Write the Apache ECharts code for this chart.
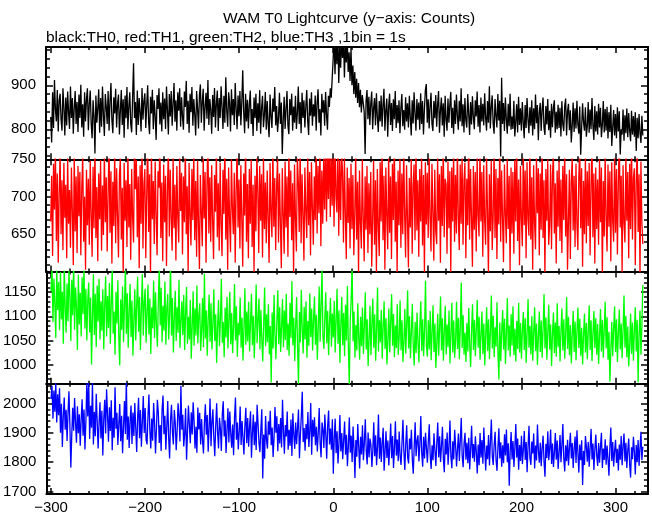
<!DOCTYPE html>
<html><head><meta charset="utf-8">
<script src="https://cdn.jsdelivr.net/npm/echarts@6/dist/echarts.min.js"></script>
<style>html,body{margin:0;padding:0;background:#fff}#c{width:652px;height:515px}</style>
</head><body><div id="c"></div>
<script>
const X_START = -300; // 1 s bins
const th0 = [
828,770,884,803,912,846,818,889,795,866,
881,822,797,893,850,786,872,809,886,838,
801,897,826,871,790,848,887,812,862,794,
879,826,901,804,857,783,884,818,869,893,
798,858,888,812,780,866,829,745,877,815,
848,891,792,871,806,897,833,785,880,852,
812,887,797,864,905,821,791,873,836,892,
804,858,879,788,842,889,810,868,781,877,
825,896,800,853,884,812,793,872,950,826,
862,787,888,810,871,838,795,894,822,864,
882,803,855,900,818,789,874,836,890,800,
866,829,776,878,846,893,811,861,795,884,
823,870,801,897,843,788,880,829,887,808,
858,905,817,866,797,884,842,893,806,873,
828,799,886,851,910,812,865,792,881,839,
896,808,869,834,786,887,847,802,877,902,
815,862,892,797,851,883,824,912,810,869,
845,790,878,828,894,804,859,888,796,871,
826,898,851,801,876,815,918,842,806,884,
860,795,891,832,869,810,905,846,800,877,
830,887,809,862,934,840,791,881,818,867,
802,855,888,812,846,785,872,826,881,796,
859,815,889,790,848,876,805,834,885,799,
864,813,782,879,829,803,870,840,896,809,
853,794,826,883,812,861,744,820,874,801,
846,887,808,789,869,832,881,797,852,815,
876,801,836,897,812,862,791,883,826,866,
804,852,889,819,787,870,831,884,808,857,
829,877,797,860,891,815,846,786,881,838,
866,808,885,833,799,876,851,893,872,915,
958,1010,925,1003,948,1015,905,990,940,1008,
962,1012,918,996,952,1005,930,975,910,985,
900,945,880,930,872,915,860,905,850,890,
838,878,860,840,744,865,889,823,874,810,
858,886,800,849,871,809,882,827,794,864,
818,877,806,855,892,797,843,870,783,852,
881,810,860,796,868,823,887,803,855,814,
866,791,848,880,807,844,799,873,818,859,
804,876,827,786,866,813,884,836,797,869,
822,861,799,882,812,864,788,846,889,903,
815,868,802,853,883,812,796,864,825,878,
806,857,887,792,843,872,809,859,783,876,
823,797,870,815,856,885,803,849,790,866,
812,879,831,799,865,818,893,807,857,793,
871,820,804,880,836,787,862,811,875,827,
800,866,829,886,806,855,793,872,818,858,
809,882,826,797,864,815,898,802,851,877,
813,790,869,831,804,880,820,865,738,917,
812,860,796,872,823,790,858,807,881,799,
829,801,865,784,817,857,793,874,810,848,
797,862,815,780,855,803,871,822,791,850,
808,866,786,848,800,879,814,855,775,838,
860,796,845,872,804,787,853,811,869,798,
842,781,858,805,849,866,792,840,800,856,
803,849,784,864,811,796,852,870,786,841,
858,798,843,770,809,861,794,848,802,865,
811,790,852,742,803,859,816,797,850,783,
806,862,792,845,800,871,809,776,853,795,
841,788,858,804,849,782,811,864,793,846,
797,851,779,839,794,856,762,803,844,786,
835,780,850,795,841,743,800,788,845,774,
832,791,847,782,837,797,773,842,788,830,
783,839,751,826,780,835,791,769,831,786];
const th1 = [
667,728,621,744,683,762,641,731,612,705,
758,650,722,629,745,672,716,618,752,664,
709,632,739,680,609,757,654,727,625,741,
674,733,622,711,755,640,700,603,736,662,
724,636,748,676,620,740,658,766,645,713,
614,731,670,749,628,715,649,760,666,726,
627,706,771,652,734,611,720,661,764,638,
738,675,619,729,751,643,712,598,745,668,
722,633,761,659,717,616,737,673,639,768,
710,749,646,727,605,742,664,769,631,716,
737,618,705,778,653,730,596,758,670,721,
637,747,675,622,734,712,773,645,719,614,
743,666,728,608,709,766,647,736,672,628,
752,658,716,615,741,673,639,757,681,732,
623,727,666,768,650,714,601,745,676,635,
737,669,761,642,721,620,748,663,604,729,
678,634,754,671,733,612,717,775,651,726,
640,742,668,617,729,680,760,646,718,628,
745,664,621,736,677,771,643,724,603,739,
671,626,750,684,650,732,612,710,765,659,
723,631,742,670,607,731,675,770,640,717,
618,737,664,750,633,716,600,728,654,758,
708,625,741,668,730,619,753,657,719,638,
735,672,612,745,680,646,766,660,725,629,
716,750,639,731,664,605,738,677,624,747,
659,727,620,762,673,735,642,718,597,743,
670,627,753,721,653,768,638,730,675,615,
739,680,645,757,662,733,622,746,684,636,
727,669,772,651,741,678,765,634,735,664,
751,683,779,667,761,697,785,673,753,688,
769,660,781,701,679,772,648,749,669,760,
734,639,752,676,617,739,665,725,631,744,
657,729,622,677,756,643,720,598,735,666,
631,750,673,614,727,656,741,625,718,650,
733,607,669,748,636,722,596,737,661,621,
746,667,766,642,728,603,739,674,630,759,
652,727,617,744,669,776,640,720,599,735,
662,751,632,731,650,764,675,619,742,668,
606,725,659,750,624,715,743,642,767,655,
722,620,737,667,752,635,729,598,746,663,
732,645,758,672,627,744,678,615,736,655,
637,752,668,730,612,741,661,773,646,724,
717,624,747,658,734,600,739,667,761,640,
729,651,765,673,629,743,664,754,636,721,
745,618,724,662,778,643,737,671,607,741,
656,733,627,752,675,647,764,667,733,620,
742,668,636,756,680,598,730,654,748,629,
672,761,645,737,617,725,663,773,640,735,
670,613,743,676,638,751,657,728,601,739,
651,733,624,749,667,766,641,723,609,741,
672,634,760,662,735,618,746,671,648,769,
643,726,603,742,665,630,754,678,738,622,
731,656,768,645,722,596,737,668,750,636,
662,743,630,729,757,651,718,611,735,660,
748,641,723,625,741,669,763,647,730,603,
667,736,617,720,752,655,728,633,744,664,
629,727,765,658,738,607,721,650,754,638,
734,661,745,622,716,772,646,731,611,739,
657,723,636,750,666,739,594,721,647,758,
671,627,743,660,734,614,746,667,640,761,
652,737,623,719,785,659,728,599,742,665,
639,755,668,733,618,744,657,777,643,725,
738,609,720,767,653,730,596,747,666,637];
const th2 = [
1152,1205,1088,1178,1126,1055,1199,1113,1171,1071,
1192,1094,1151,1043,1210,1120,1066,1168,1090,1197,
1141,1049,1176,1102,1215,1072,1160,1119,1030,1186,
1083,1149,1058,1181,1105,1201,1074,1157,1050,1133,
1170,1067,1139,1000,1098,1188,1061,1147,1036,1164,
1089,1178,1052,1131,1070,1156,1031,1124,1183,1058,
1142,1076,1169,1043,1127,1200,1064,1110,1020,1151,
1085,1175,1055,998,1135,1072,1162,1046,1120,1203,
1064,1148,1035,1111,1167,1057,1133,1018,1091,1156,
1050,1124,1182,1068,1140,1030,1116,1188,1060,1129,
1157,1045,1106,1166,1062,1137,1022,1118,1075,1174,
1055,1150,1083,1037,1130,1205,1081,1159,1046,1122,
1070,1172,1041,1115,1146,1052,1103,1212,1060,1138,
1025,1098,1153,1049,1119,1066,1176,1035,1090,1131,
1061,1144,1030,1108,1161,1043,1099,1052,1134,1012,
1078,1152,1039,1116,1060,1164,1044,1100,1127,1028,
1071,1138,1036,1189,1054,1112,1018,1094,1145,1047,
1127,1031,1084,1156,1049,1104,1003,1079,1134,1038,
1092,1178,1045,1088,1015,1118,1056,1140,1033,1091,
1151,1042,1107,1024,1080,1167,1050,1121,1016,1086,
1061,1139,1035,1097,1008,1075,1158,1041,1110,1048,
1130,1027,1086,1147,1040,1101,1013,1078,1166,1044,
1093,1137,1031,1113,1052,1006,1084,1160,1038,1104,
1046,1125,1021,1080,962,1108,1033,1144,1060,1011,
1089,1154,1042,1119,1026,1078,1136,1036,1112,1051,
1147,1030,1085,1018,1128,1055,1173,1040,1097,1007,
1081,1140,1034,960,1109,1046,1155,1072,1023,1120,
1052,1131,1014,1090,1039,1148,1057,1116,1029,1095,
1141,1041,1103,1010,1076,1162,1047,1123,1200,1058,
1032,1098,1150,1044,1111,1019,1087,1138,1037,1106,
1056,1132,1025,1093,1157,1043,1112,1003,1084,1140,
1040,1107,1017,1124,1050,1163,1035,959,1090,1135,
1208,1048,1110,1014,1082,1029,1127,1055,1010,1099,
1038,1118,1022,1078,1150,1031,1094,997,1049,1122,
1019,1083,1137,1035,1104,1008,1073,1160,1027,1092,
1046,1113,1012,1077,1131,1032,1096,1000,1050,1116,
1025,1090,1146,1039,1105,1015,1081,1034,1125,1020,
1054,1133,1029,1092,1005,1045,1115,1023,1083,1154,
1033,1100,1013,1068,1126,1037,998,1088,1024,1108,
1046,1004,1080,1131,1028,1094,1017,1072,1174,1038,
1016,1092,1031,1111,1009,1067,1123,1026,1085,993,
1043,1105,1018,1076,1141,1029,1096,1008,1070,1122,
1021,1083,1036,1112,1002,1064,1128,1025,1091,1014,
1051,1130,1032,1097,1011,1079,1170,1034,1102,1020,
1066,1005,1086,1027,1117,1039,995,1074,1125,1030,
1093,1017,1073,1134,1035,1099,1010,1064,1110,1022,
1085,998,1062,1119,1028,1094,1011,1069,1143,1033,
1101,1015,1077,1037,1129,1024,969,1087,1007,1070,
1113,1031,1095,1001,1065,1138,1029,1081,1016,1104,
1039,1121,1019,1074,1006,1090,1032,1128,1025,1086,
1012,1071,1109,1030,1096,1003,1063,1136,1035,1080,
1021,1100,1008,1067,1119,1028,1085,999,1060,1110,
1026,1091,1014,1075,1146,1033,1098,1010,1068,1124,
1031,1083,997,1064,1108,1024,1087,1016,1127,1036,
1080,1006,1071,1116,1029,1094,1012,1066,1140,1032,
1099,1019,1082,1002,1063,1111,1026,1089,1009,1070,
1118,1034,1095,1018,1076,1000,1062,1106,1025,1086,
1011,1069,1123,1030,1092,1007,1065,1111,1034,1096,
1020,1084,1001,1060,1115,1027,1093,1014,1073,1130,
1033,1098,1010,1068,964,1029,1088,1017,1075,1121,
1026,1094,1005,1066,1114,1031,1085,1013,1072,1143,
1035,1101,1015,1079,996,1038,1106,1022,1087,1008,
1069,1119,1027,1093,963,1062,1112,1020,1080,1165];
const th3 = [
2015,2060,1948,2044,1972,2070,1935,2031,1960,2052,
1900,1999,1851,1957,2020,1910,1978,1872,1966,2041,
1925,1781,1893,1985,1907,2018,1934,1866,1990,1898,
1963,1856,1945,2014,1890,1979,1843,1938,2070,1955,
2075,1879,1992,1917,2072,1860,1971,1888,2033,1940,
1846,1933,2004,1880,1975,1822,1946,2012,1897,2048,
1962,1869,1987,1906,2011,1840,1951,1883,2055,1914,
1968,1858,1929,1998,1871,1958,1830,1921,2008,1896,
2080,1876,1955,1848,1942,1993,1862,1969,1889,2001,
1915,1834,1950,2019,1881,1977,1852,1936,2025,1899,
1984,1876,1860,1955,2030,1908,1846,1948,1873,2001,
1937,1829,1912,2012,1968,1865,1926,1838,1979,2027,
1895,1958,1842,1921,2008,1883,1812,1945,1995,1902,
1860,1977,1934,1840,1905,2000,1956,1870,2060,1910,
1961,1853,1895,1983,1808,1903,1993,1926,1864,1970,
1894,2004,1941,1846,1920,1832,1986,1911,1968,1860,
1947,1873,1829,1935,1997,1893,1960,1835,1918,2017,
1854,1936,1980,1884,1820,1922,2000,1902,1846,1951,
1913,1838,1964,2007,1887,1942,1831,1910,1983,1867,
1972,1896,1849,1928,1823,1952,2020,1876,1935,1843,
1904,1989,1858,1940,1881,1826,1922,1985,1864,1950,
1852,1921,1973,1815,1901,1962,1857,1937,1841,1995,
1931,1866,1834,1912,1980,1744,1894,1811,1957,1874,
1846,1939,1893,1975,1857,1918,1817,1882,1988,1900,
1956,1837,1930,1863,1950,1850,2012,1905,1828,1926,
1887,1972,1842,1910,1855,1945,1821,1966,1895,1845,
1935,1861,1918,1979,1813,1892,1955,2040,1868,1916,
1839,1930,1878,1971,1851,1906,2001,1825,1944,1886,
1953,1857,1920,1836,1899,1984,1865,1816,1935,1911,
1848,1962,1893,1811,1923,1976,1860,1914,1842,1946,
1760,1880,1948,1830,1905,1795,1862,1960,1836,1899,
1810,1875,1938,1825,1893,1786,1856,1952,1832,1890,
1800,1921,1846,1746,1875,1818,1930,1852,1778,1886,
1826,1925,1806,1866,1946,1838,1792,1901,1816,1880,
1858,1783,1840,1936,1820,1891,1789,1853,1962,1811,
1884,1800,1866,1917,1770,1836,1905,1814,1873,1788,
1855,1931,1813,1889,1780,1848,1939,1822,1877,1803,
1904,1820,1790,1865,1944,1838,1773,1860,1925,1816,
1795,1880,1843,1910,1808,1760,1853,1936,1820,1872,
1891,1802,1858,1957,1830,1784,1886,1812,1900,1848,
1798,1870,1929,1822,1776,1857,1806,1898,1840,1787,
1866,1935,1816,1888,1800,1854,1920,1810,1765,1879,
1826,1901,1791,1853,1942,1818,1779,1871,1809,1910,
1856,1785,1843,1897,1804,1875,1950,1820,1782,1864,
1900,1808,1866,1796,1883,1775,1845,1924,1813,1861,
1801,1888,1834,1761,1860,1789,1899,1815,1875,1794,
1918,1842,1771,1856,1810,1892,1788,1870,1945,1819,
1790,1860,1903,1806,1770,1850,1915,1812,1867,1784,
1857,1796,1895,1822,1911,1799,1864,1719,1836,1902,
1809,1872,1783,1850,1930,1815,1880,1774,1858,1804,
1890,1793,1843,1906,1807,1868,1765,1852,1924,1813,
1790,1870,1829,1897,1778,1856,1805,1928,1838,1798,
1866,1786,1848,1890,1800,1750,1862,1814,1905,1806,
1846,1911,1793,1863,1783,1833,1899,1808,1873,1776,
1832,1892,1799,1858,1930,1811,1768,1857,1803,1876,
1788,1850,1900,1812,1865,1780,1845,1887,1797,1908,
1831,1764,1860,1806,1874,1722,1838,1790,1889,1852,
1801,1868,1784,1848,1913,1809,1863,1773,1842,1894,
1822,1787,1865,1798,1853,1900,1780,1846,1807,1878,
1791,1856,1810,1753,1851,1918,1804,1868,1785,1838,
1876,1797,1845,1771,1860,1808,1889,1789,1853,1897,
1802,1866,1780,1840,1880,1793,1747,1850,1810,1886,
1836,1758,1858,1799,1875,1787,1847,1903,1806,1852];

const seriesData = [th0, th1, th2, th3];
const colors = ['#000000', '#ff0000', '#00ff00', '#0000ff'];
const yRanges = [[732, 987], [600.5, 750], [960, 1193], [1691, 2067]];
const yLabels = [[800, 900], [650, 700, 750], [1000, 1050, 1100, 1150], [1700, 1800, 1900, 2000]];
const yMinorStep = [20, 10, 10, 20];
const xRange = [-305, 334.5];
const xLabels = [-300, -200, -100, 0, 100, 200, 300];
const xMinorStep = 20;

const FONT = 'Liberation Sans';
function range(a, b, s) { const r = []; for (let v = Math.ceil(a / s) * s; v <= b + 1e-9; v += s) r.push(v); return r; }
const fmt = v => (v < 0 ? '\u2212' + Math.abs(v) : String(v));

const L = 46, R = 648, T = 47, B = 496;
const H = (B - T) / 4;
const grids = [], xAxes = [], yAxes = [], series = [];
for (let i = 0; i < 4; i++) {
  grids.push({ left: L, width: R - L, top: T + i * H, height: H, containLabel: false });
  const xMinor = range(xRange[0], xRange[1], xMinorStep).filter(v => !xLabels.includes(v));
  const yMinor = range(yRanges[i][0], yRanges[i][1], yMinorStep[i]).filter(v => !yLabels[i].includes(v));
  const baseX = { gridIndex: i, type: 'value', min: xRange[0], max: xRange[1], splitLine: { show: false } };
  const baseY = { gridIndex: i, type: 'value', min: yRanges[i][0], max: yRanges[i][1], splitLine: { show: false } };
  ['bottom', 'top'].forEach(pos => {
    xAxes.push(Object.assign({}, baseX, {
      position: pos,
      axisLine: { show: true, onZero: false, lineStyle: { color: '#000', width: 2 } },
      axisTick: { show: true, inside: true, length: 6, customValues: xLabels, lineStyle: { color: '#000', width: 1.5 } },
      axisLabel: (pos === 'bottom' && i === 3) ? { show: true, customValues: xLabels, formatter: fmt, color: '#000', fontSize: 15, fontFamily: FONT, margin: 6 } : { show: false }
    }));
    xAxes.push(Object.assign({}, baseX, {
      position: pos,
      axisLine: { show: false, onZero: false },
      axisTick: { show: true, inside: true, length: 3, customValues: xMinor, lineStyle: { color: '#000', width: 1.5 } },
      axisLabel: { show: false }
    }));
  });
  ['left', 'right'].forEach(pos => {
    yAxes.push(Object.assign({}, baseY, {
      position: pos,
      axisLine: { show: true, onZero: false, lineStyle: { color: '#000', width: 2 } },
      axisTick: { show: true, inside: true, length: 7, customValues: yLabels[i], lineStyle: { color: '#000', width: 1.5 } },
      axisLabel: pos === 'left' ? { show: true, customValues: yLabels[i], formatter: v => String(v), color: '#000', fontSize: 15, fontFamily: FONT, margin: 10 } : { show: false }
    }));
    yAxes.push(Object.assign({}, baseY, {
      position: pos,
      axisLine: { show: false, onZero: false },
      axisTick: { show: true, inside: true, length: 4, customValues: yMinor, lineStyle: { color: '#000', width: 1.5 } },
      axisLabel: { show: false }
    }));
  });
  series.push({
    type: 'line', xAxisIndex: 4 * i, yAxisIndex: 4 * i,
    data: seriesData[i].map((v, k) => [X_START + k, v]),
    showSymbol: false, symbol: 'none', clip: true, animation: false,
    lineStyle: { color: colors[i], width: 1.3 }
  });
}

const chart = echarts.init(document.getElementById('c'), null, { renderer: 'canvas' });
chart.setOption({
  backgroundColor: '#fff',
  animation: false,
  title: [
    { text: 'WAM T0 Lightcurve (y\u2212axis: Counts)', left: 349, top: 11, padding: 0, textAlign: 'center',
      textStyle: { fontSize: 15.5, fontWeight: 'normal', color: '#000', fontFamily: FONT } },
    { text: 'black:TH0, red:TH1, green:TH2, blue:TH3 ,1bin = 1s', left: 46, top: 30, padding: 0,
      textStyle: { fontSize: 15.5, fontWeight: 'normal', color: '#000', fontFamily: FONT } }
  ],
  grid: grids, xAxis: xAxes, yAxis: yAxes, series: series
});
</script></body></html>
